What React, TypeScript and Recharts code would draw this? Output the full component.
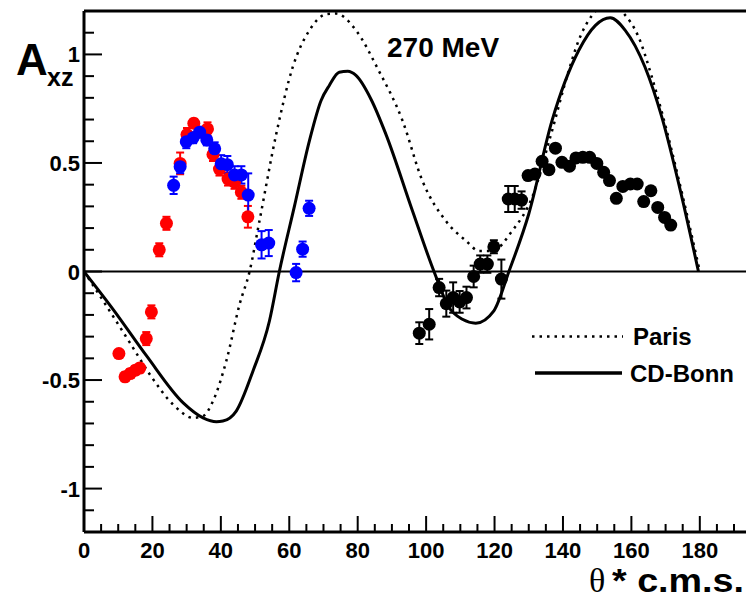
import React from 'react';
import {
  ComposedChart,
  Line,
  Scatter,
  ErrorBar,
  XAxis,
  YAxis,
  ReferenceLine,
} from 'recharts';

// Paris potential (dotted)
const parisX = [0, 5.6, 13.4, 19.2, 26, 31.9, 34.8, 37.7, 41.6, 45.5, 48.4, 51.3, 56.2, 61, 65.9, 70.8, 73.7, 79.5, 86, 93.1, 98.9, 105.7, 111.6, 115.5, 119.3, 125.2, 131, 136.3, 141.7, 144.6, 148.5, 151, 154, 157.7, 162.1, 166, 168.9, 174.5, 180];
const parisY = [0, -0.135, -0.328, -0.473, -0.612, -0.674, -0.666, -0.597, -0.412, -0.15, 0, 0.234, 0.634, 0.941, 1.111, 1.185, 1.188, 1.111, 0.93, 0.695, 0.418, 0.234, 0.142, 0.095, 0.095, 0.188, 0.342, 0.62, 0.926, 1.065, 1.18, 1.22, 1.24, 1.19, 1.08, 0.895, 0.734, 0.38, 0];

// CD-Bonn potential (solid)
const bonnX = [0, 8.5, 18.3, 29, 34.8, 38.7, 40.6, 44.5, 49.4, 54.2, 57.1, 61.5, 65.9, 69.3, 71.7, 74.6, 77.1, 79.5, 84, 88.2, 96, 102.3, 106.7, 110.6, 114.5, 119.8, 124.2, 130, 136.8, 144.6, 149.5, 153.8, 158.2, 164, 168.9, 174.5, 179.6];
const bonnY = [0, -0.174, -0.389, -0.605, -0.674, -0.692, -0.689, -0.643, -0.458, -0.228, 0, 0.3, 0.603, 0.788, 0.857, 0.918, 0.922, 0.903, 0.79, 0.634, 0.28, 0, -0.166, -0.22, -0.238, -0.181, 0, 0.265, 0.695, 1.018, 1.134, 1.169, 1.111, 0.941, 0.711, 0.36, 0];

// red data set
const redX = [10.2, 12.0, 13.5, 15.0, 16.3, 18.2, 19.7, 22.0, 24.1, 28.1, 30.1, 32.1, 36.1, 37.7, 39.6, 42.1, 44.0, 46.0, 47.9];
const redY = [-0.378, -0.485, -0.47, -0.455, -0.445, -0.309, -0.186, 0.1, 0.222, 0.498, 0.631, 0.683, 0.657, 0.539, 0.472, 0.426, 0.411, 0.365, 0.252];
const redErr = [0.015, 0.02, 0.02, 0.02, 0.02, 0.03, 0.03, 0.03, 0.03, 0.05, 0.03, 0.02, 0.03, 0.03, 0.03, 0.03, 0.03, 0.03, 0.05];

// blue data set
const blueX = [26.2, 28.1, 29.9, 31.9, 33.8, 35.9, 38.2, 40.1, 41.9, 44.0, 46.0, 48.0, 51.9, 54.0, 62.0, 63.9, 65.8];
const blueY = [0.397, 0.483, 0.598, 0.616, 0.642, 0.606, 0.565, 0.496, 0.492, 0.445, 0.445, 0.352, 0.123, 0.131, -0.005, 0.103, 0.291];
const blueErr = [0.04, 0.03, 0.03, 0.025, 0.025, 0.025, 0.03, 0.04, 0.04, 0.04, 0.04, 0.1, 0.063, 0.06, 0.04, 0.035, 0.035];

// black data set
const blackX = [98.0, 100.9, 103.8, 105.9, 107.9, 109.8, 111.8, 113.9, 115.8, 117.9, 119.8, 122.0, 124.0, 125.9, 127.9, 129.8, 131.8, 133.9, 135.9, 137.8, 139.7, 141.9, 143.8, 145.8, 147.8, 149.9, 151.9, 153.6, 155.6, 157.5, 159.7, 161.7, 163.6, 165.7, 167.7, 169.7, 171.5];
const blackY = [-0.284, -0.243, -0.074, -0.148, -0.12, -0.14, -0.12, -0.023, 0.034, 0.034, 0.114, -0.035, 0.334, 0.334, 0.329, 0.442, 0.449, 0.508, 0.469, 0.568, 0.503, 0.485, 0.523, 0.526, 0.526, 0.498, 0.457, 0.419, 0.337, 0.392, 0.403, 0.403, 0.322, 0.372, 0.295, 0.249, 0.214];
const blackErr = [0.05, 0.07, 0.04, 0.06, 0.07, 0.05, 0.05, 0.05, 0.04, 0.04, 0.03, 0.09, 0.06, 0.06, 0.04, 0.01, 0.01, 0.01, 0.01, 0.01, 0.01, 0.01, 0.01, 0.01, 0.01, 0.01, 0.01, 0.01, 0.01, 0.01, 0.01, 0.01, 0.01, 0.01, 0.01, 0.01, 0.01];

const xTicks = Array.from({ length: 39 }, (_, i) => i * 5);
const yTicks = Array.from({ length: 23 }, (_, i) => (i - 11) / 10);
const xLabels = [0, 20, 40, 60, 80, 100, 120, 140, 160, 180];
const yLabels: Record<string, string> = { '-1': '-1', '-0.5': '-0.5', '0': '0', '0.5': '0.5', '1': '1' };

const curve = (xs: number[], ys: number[]) => xs.map((x, i) => ({ x, y: ys[i] }));
const points = (xs: number[], ys: number[], es: number[]) => xs.map((x, i) => ({ x, y: ys[i], err: es[i] }));

const parisData = curve(parisX, parisY);
const bonnData = curve(bonnX, bonnY);
const redData = points(redX, redY, redErr);
const blueData = points(blueX, blueY, blueErr);
const blackData = points(blackX, blackY, blackErr);

const FONT = '"Liberation Sans", Arial, Helvetica, sans-serif';

const XTick = (props: any) => {
  const { x, y, payload } = props;
  const v = payload.value;
  const major = v % 20 === 0;
  return (
    <g>
      <line x1={x} x2={x} y1={y} y2={y - (major ? 16 : 8)} stroke="#000" strokeWidth={2} />
      {major && xLabels.includes(v) && (
        <text x={x} y={y + 26} textAnchor="middle" fontFamily={FONT} fontWeight="bold" fontSize={22} fill="#000">
          {v}
        </text>
      )}
    </g>
  );
};

const YTick = (props: any) => {
  const { x, y, payload } = props;
  const v = Math.round(payload.value * 10) / 10;
  const label = yLabels[String(v)];
  const major = label !== undefined;
  return (
    <g>
      <line x1={x} x2={x + (major ? 18 : 10)} y1={y} y2={y} stroke="#000" strokeWidth={2} />
      {major && (
        <text x={80} y={y + 8} textAnchor="end" fontFamily={FONT} fontWeight="bold" fontSize={22} fill="#000">
          {label}
        </text>
      )}
    </g>
  );
};

const dot = (color: string) => (p: any) => <circle cx={p.cx} cy={p.cy} r={6.5} fill={color} />;

export default function App() {
  return (
    <div style={{ position: 'absolute', left: 0, top: 0, width: 746, height: 599, background: '#fff' }}>
      <ComposedChart width={746} height={599} margin={{ top: 11, right: 0, bottom: 37, left: 0 }}>
        <XAxis
          type="number"
          dataKey="x"
          domain={[0, 193.5]}
          ticks={xTicks}
          interval={0}
          allowDataOverflow
          tickSize={0}
          tickMargin={0}
          tickLine={false}
          tick={<XTick />}
          height={30}
          axisLine={{ stroke: '#000', strokeWidth: 3 }}
        />
        <YAxis
          type="number"
          dataKey="y"
          domain={[-1.2, 1.2]}
          ticks={yTicks.filter((v) => Math.abs(v) < 1.15)}
          interval={0}
          allowDataOverflow
          tickSize={0}
          tickMargin={0}
          tickLine={false}
          tick={<YTick />}
          width={84}
          axisLine={{ stroke: '#000', strokeWidth: 3 }}
        />
        <ReferenceLine y={0} stroke="#000" strokeWidth={2} />
        <ReferenceLine y={1.2} stroke="#000" strokeWidth={3} />
        <Line
          data={parisData}
          dataKey="y"
          type="monotone"
          stroke="#000"
          strokeWidth={2.5}
          strokeDasharray="2.5 5"
          dot={false}
          isAnimationActive={false}
        />
        <Line
          data={bonnData}
          dataKey="y"
          type="monotone"
          stroke="#000"
          strokeWidth={3}
          dot={false}
          isAnimationActive={false}
        />
        <Scatter data={redData} dataKey="y" fill="#ff0000" shape={dot('#ff0000')} isAnimationActive={false}>
          <ErrorBar dataKey="err" direction="y" width={4} stroke="#ff0000" strokeWidth={2} />
        </Scatter>
        <Scatter data={blueData} dataKey="y" fill="#0000ff" shape={dot('#0000ff')} isAnimationActive={false}>
          <ErrorBar dataKey="err" direction="y" width={4} stroke="#0000ff" strokeWidth={2} />
        </Scatter>
        <Scatter data={blackData} dataKey="y" fill="#000" shape={dot('#000')} isAnimationActive={false}>
          <ErrorBar dataKey="err" direction="y" width={4} stroke="#000" strokeWidth={2} />
        </Scatter>
      </ComposedChart>
      <svg width={746} height={599} style={{ position: 'absolute', left: 0, top: 0, pointerEvents: 'none' }}>
        <text x={387} y={57} fontFamily={FONT} fontWeight="bold" fontSize={28} fill="#000">270 MeV</text>
        <text x={16} y={75} fontFamily={FONT} fontWeight="bold" fontSize={44} fill="#000">A</text>
        <text x={47} y={86} fontFamily={FONT} fontWeight="bold" fontSize={25} fill="#000">xz</text>
        <text x={589} y={592} fontFamily='"Liberation Serif", "Times New Roman", serif' fontSize={34} fill="#000">θ</text>
        <text x={612} y={592} textLength={132} lengthAdjust="spacingAndGlyphs" fontFamily={FONT} fontWeight="bold" fontSize={34} fill="#000">* c.m.s.</text>
        <line x1={532} x2={623} y1={336.5} y2={336.5} stroke="#000" strokeWidth={2.5} strokeDasharray="2.5 5" />
        <text x={633} y={345} fontFamily={FONT} fontWeight="bold" fontSize={24} fill="#000">Paris</text>
        <line x1={535} x2={622} y1={373} y2={373} stroke="#000" strokeWidth={3.3} />
        <text x={630} y={382} fontFamily={FONT} fontWeight="bold" fontSize={24} fill="#000">CD-Bonn</text>
      </svg>
    </div>
  );
}
